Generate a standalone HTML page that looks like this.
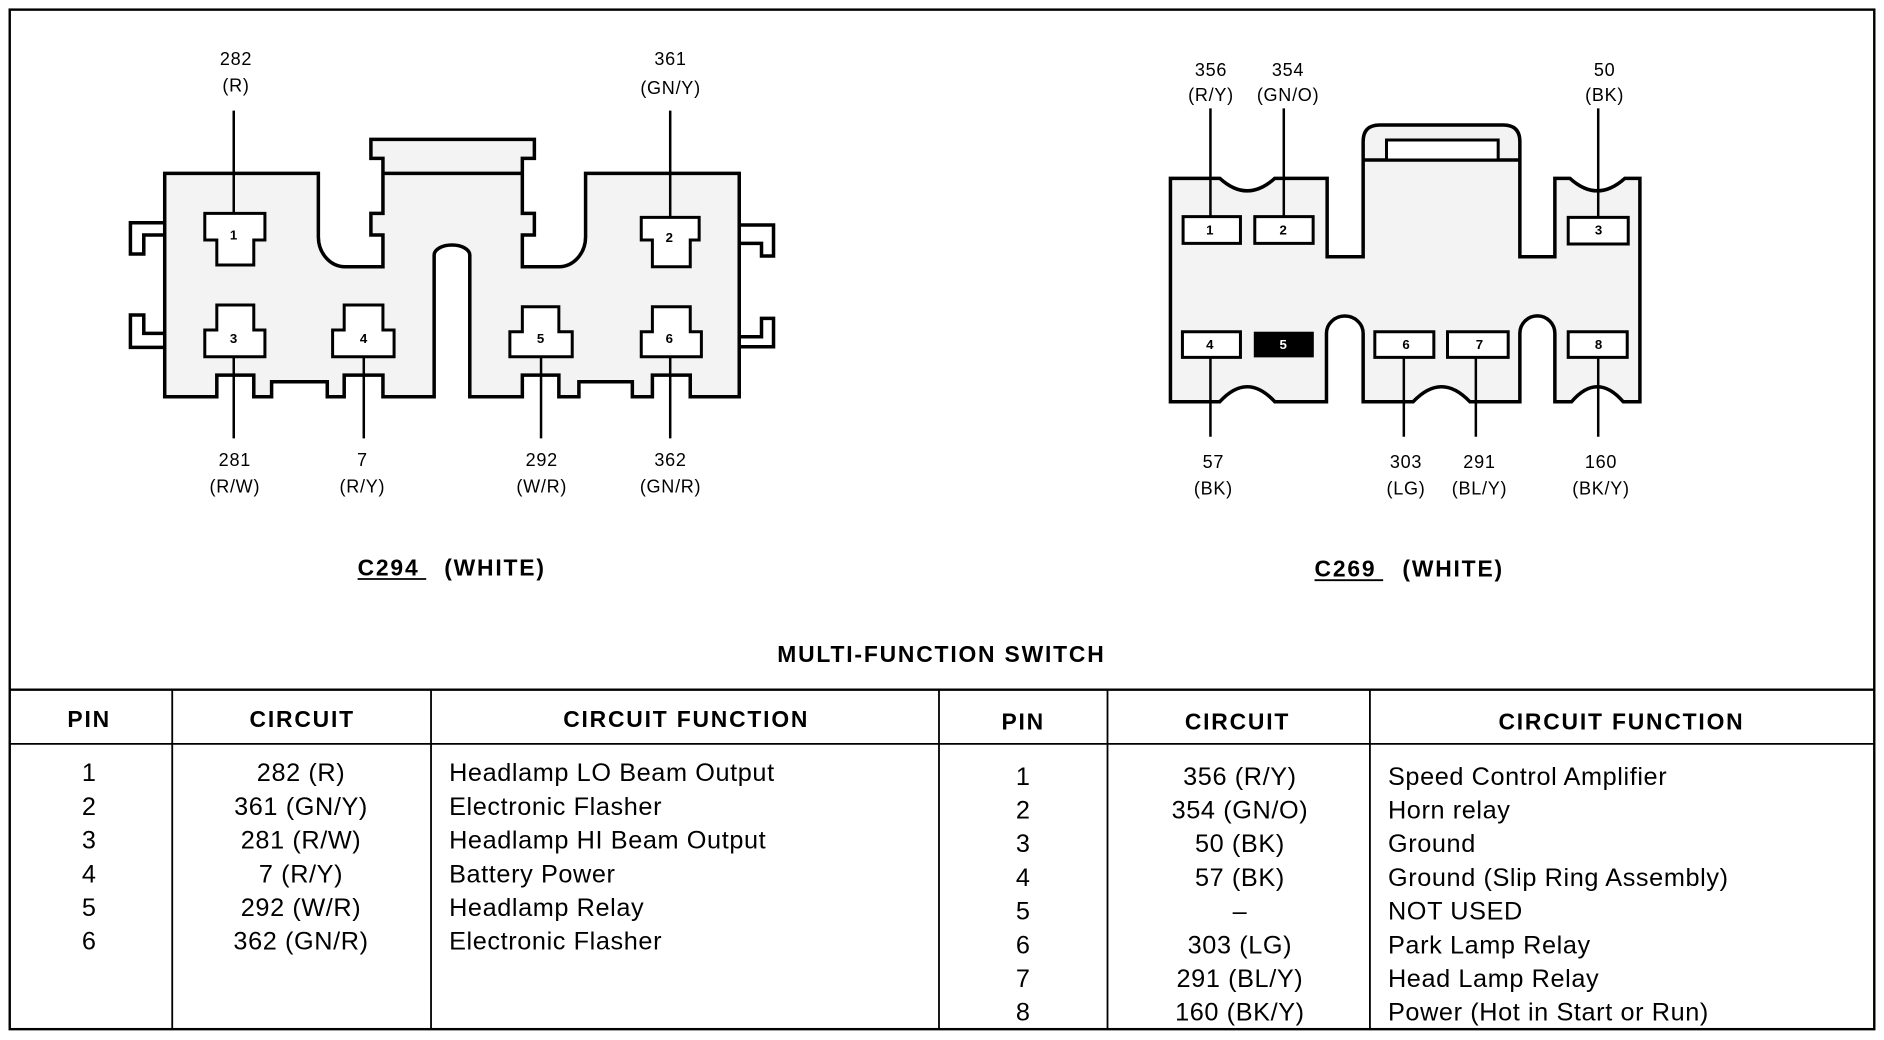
<!DOCTYPE html>
<html><head><meta charset="utf-8"><style>
html,body{margin:0;padding:0;background:#fff;}
svg{display:block;}
text{font-family:"Liberation Sans",sans-serif;fill:#000;}
.b{stroke:#000;stroke-width:3.5;fill:#f3f3f3;vector-effect:non-scaling-stroke;stroke-linejoin:miter;}
.p{stroke:#000;stroke-width:3;fill:#fff;vector-effect:non-scaling-stroke;}
.w{stroke:#000;stroke-width:2.5;fill:none;vector-effect:non-scaling-stroke;}
.t{stroke:#000;stroke-width:3.5;fill:none;vector-effect:non-scaling-stroke;}
.lbl{font-size:15px;text-anchor:middle;letter-spacing:0.6px;}
.pn{font-size:11px;text-anchor:middle;font-weight:bold;}
.h{font-size:19px;font-weight:bold;text-anchor:middle;letter-spacing:1.5px;}
.r{font-size:21px;letter-spacing:0.5px;}
.c{text-anchor:middle;}
.ti{font-size:19px;font-weight:bold;letter-spacing:1.5px;}
</style></head><body>
<svg width="1884" height="1040" viewBox="0 0 1565 864" xmlns="http://www.w3.org/2000/svg">
<rect x="8" y="8" width="1549" height="847" fill="none" stroke="#000" stroke-width="2"/>
<line x1="8" y1="573" x2="1557" y2="573" stroke="#000" stroke-width="2"/>
<line x1="8" y1="618" x2="1557" y2="618" stroke="#000" stroke-width="1.5"/>
<g stroke="#000" stroke-width="1.5">
<line x1="143" y1="573" x2="143" y2="855"/><line x1="358" y1="573" x2="358" y2="855"/>
<line x1="780" y1="573" x2="780" y2="855"/><line x1="920" y1="573" x2="920" y2="855"/>
<line x1="1138" y1="573" x2="1138" y2="855"/>
</g>

<g transform="translate(83.1,108) scale(0.37,0.277)">
<path class="b" d="M145,130 H490 V320 A60,90 0 0 0 550,410 H635 V315 H608 V250 H635 V85 H608 V28 H975 V85 H948 V250 H975 V315 H948 V410 H1030 A60,90 0 0 0 1090,320 V130 H1435 V800 H1325 V735 H1240 V800 H1195 V755 H1075 V800 H1030 V735 H948 V800 H830 V375 A40,30 0 0 0 750,375 V800 H635 V735 H548 V800 H510 V755 H385 V800 H345 V735 H262 V800 H145 Z"/>
<path class="t" d="M635,130 H948"/>
<path class="t" d="M145,278 H68 V372 H98 V315 H145"/>
<path class="t" d="M145,652 H68 V555 H98 V610 H145"/>
<path class="t" d="M1435,285 H1512 V378 H1485 V340 H1435"/>
<path class="t" d="M1435,650 H1512 V565 H1485 V620 H1435"/>
<path class="p" d="M235,250 H370 V330 H345 V405 H262 V330 H235 Z"/>
<path class="p" d="M1215,262 H1345 V330 H1325 V410 H1240 V330 H1215 Z"/>
<path class="p" d="M262,525 H345 V600 H370 V680 H235 V600 H262 Z"/>
<path class="p" d="M548,525 H635 V600 H660 V680 H522 V600 H548 Z"/>
<path class="p" d="M948,530 H1030 V605 H1060 V680 H920 V605 H948 Z"/>
<path class="p" d="M1240,530 H1325 V605 H1350 V680 H1215 V605 H1240 Z"/>
<path class="w" d="M300,-58 V250 M1280,-58 V262 M300,680 V925 M592,680 V925 M990,680 V925 M1280,680 V925"/>
</g>
<text class="pn" x="194" y="199">1</text>
<text class="pn" x="556" y="201">2</text>
<text class="pn" x="194" y="285">3</text>
<text class="pn" x="302" y="285">4</text>
<text class="pn" x="449" y="285">5</text>
<text class="pn" x="556" y="285">6</text>

<text class="lbl" x="196" y="54">282</text><text class="lbl" x="196" y="76">(R)</text>
<text class="lbl" x="557" y="54">361</text><text class="lbl" x="557" y="78">(GN/Y)</text>
<text class="lbl" x="195" y="387">281</text><text class="lbl" x="195" y="409">(R/W)</text>
<text class="lbl" x="301" y="387">7</text><text class="lbl" x="301" y="409">(R/Y)</text>
<text class="lbl" x="450" y="387">292</text><text class="lbl" x="450" y="409">(W/R)</text>
<text class="lbl" x="557" y="387">362</text><text class="lbl" x="557" y="409">(GN/R)</text>

<g transform="translate(955.1,83.06) scale(0.277)">
<path class="b" d="M62,235 H210 Q292,310 375,235 H532 V470 H640 V125 Q640,75 690,75 H1060 Q1110,75 1110,125 V470 H1215 V235 H1260 Q1342,310 1425,235 H1470 V905 H1420 Q1342,815 1265,905 H1215 V700 A52,52 0 0 0 1110,700 V905 H960 Q875,815 790,905 H640 V700 A55,52 0 0 0 530,700 V905 H375 Q292,815 210,905 H62 Z"/>
<path class="t" d="M640,180 H1110"/>
<rect class="p" x="710" y="120" width="335" height="60"/>
<rect class="p" x="100" y="350" width="172" height="80"/>
<rect class="p" x="315" y="350" width="175" height="80"/>
<rect class="p" x="1255" y="352" width="180" height="80"/>
<rect class="p" x="98" y="695" width="174" height="77"/>
<rect x="312" y="695" width="180" height="77" fill="#000"/>
<rect class="p" x="675" y="695" width="177" height="77"/>
<rect class="p" x="893" y="695" width="182" height="77"/>
<rect class="p" x="1255" y="695" width="177" height="77"/>
<path class="w" d="M182,25 V350 M402,25 V350 M1345,25 V352 M182,772 V1010 M762,772 V1010 M978,772 V1010 M1345,772 V1010"/>
</g>
<text class="pn" x="1005" y="195">1</text>
<text class="pn" x="1066" y="195">2</text>
<text class="pn" x="1328" y="195">3</text>
<text class="pn" x="1005" y="290">4</text>
<text class="pn" x="1066" y="290" style="fill:#fff">5</text>
<text class="pn" x="1168" y="290">6</text>
<text class="pn" x="1229" y="290">7</text>
<text class="pn" x="1328" y="290">8</text>

<text class="lbl" x="1006" y="63">356</text><text class="lbl" x="1006" y="84">(R/Y)</text>
<text class="lbl" x="1070" y="63">354</text><text class="lbl" x="1070" y="84">(GN/O)</text>
<text class="lbl" x="1333" y="63">50</text><text class="lbl" x="1333" y="84">(BK)</text>
<text class="lbl" x="1008" y="389">57</text><text class="lbl" x="1008" y="411">(BK)</text>
<text class="lbl" x="1168" y="389">303</text><text class="lbl" x="1168" y="411">(LG)</text>
<text class="lbl" x="1229" y="389">291</text><text class="lbl" x="1229" y="411">(BL/Y)</text>
<text class="lbl" x="1330" y="389">160</text><text class="lbl" x="1330" y="411">(BK/Y)</text>

<text class="ti" x="297" y="478">C294</text><text class="ti" x="369" y="478">(WHITE)</text>
<line x1="297" y1="481" x2="354" y2="481" stroke="#000" stroke-width="1.5"/>
<text class="ti" x="1092" y="479">C269</text><text class="ti" x="1165" y="479">(WHITE)</text>
<line x1="1092" y1="482" x2="1149" y2="482" stroke="#000" stroke-width="1.5"/>
<text class="h" x="782" y="550">MULTI-FUNCTION SWITCH</text>

<text class="h" x="74" y="604">PIN</text>
<text class="h" x="251" y="604">CIRCUIT</text>
<text class="h" x="570" y="604">CIRCUIT FUNCTION</text>
<text class="h" x="850" y="606">PIN</text>
<text class="h" x="1028" y="606">CIRCUIT</text>
<text class="h" x="1347" y="606">CIRCUIT FUNCTION</text>

<g class="r">
<text class="c" x="74" y="649">1</text><text class="c" x="250" y="649">282 (R)</text><text x="373" y="649">Headlamp LO Beam Output</text>
<text class="c" x="74" y="677">2</text><text class="c" x="250" y="677">361 (GN/Y)</text><text x="373" y="677">Electronic Flasher</text>
<text class="c" x="74" y="705">3</text><text class="c" x="250" y="705">281 (R/W)</text><text x="373" y="705">Headlamp HI Beam Output</text>
<text class="c" x="74" y="733">4</text><text class="c" x="250" y="733">7 (R/Y)</text><text x="373" y="733">Battery Power</text>
<text class="c" x="74" y="761">5</text><text class="c" x="250" y="761">292 (W/R)</text><text x="373" y="761">Headlamp Relay</text>
<text class="c" x="74" y="789">6</text><text class="c" x="250" y="789">362 (GN/R)</text><text x="373" y="789">Electronic Flasher</text>

<text class="c" x="850" y="652">1</text><text class="c" x="1030" y="652">356 (R/Y)</text><text x="1153" y="652">Speed Control Amplifier</text>
<text class="c" x="850" y="680">2</text><text class="c" x="1030" y="680">354 (GN/O)</text><text x="1153" y="680">Horn relay</text>
<text class="c" x="850" y="708">3</text><text class="c" x="1030" y="708">50 (BK)</text><text x="1153" y="708">Ground</text>
<text class="c" x="850" y="736">4</text><text class="c" x="1030" y="736">57 (BK)</text><text x="1153" y="736">Ground (Slip Ring Assembly)</text>
<text class="c" x="850" y="764">5</text><text class="c" x="1030" y="764">–</text><text x="1153" y="764">NOT USED</text>
<text class="c" x="850" y="792">6</text><text class="c" x="1030" y="792">303 (LG)</text><text x="1153" y="792">Park Lamp Relay</text>
<text class="c" x="850" y="820">7</text><text class="c" x="1030" y="820">291 (BL/Y)</text><text x="1153" y="820">Head Lamp Relay</text>
<text class="c" x="850" y="848">8</text><text class="c" x="1030" y="848">160 (BK/Y)</text><text x="1153" y="848">Power (Hot in Start or Run)</text>
</g>
</svg>
</body></html>
